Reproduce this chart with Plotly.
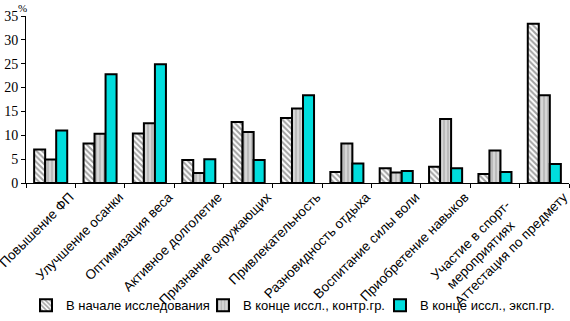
import plotly.graph_objects as go

categories = [
    "Повышение ФП", "Улучшение осанки", "Оптимизация веса", "Активное долголетие",
    "Признание окружающих", "Привлекательность", "Разновидность отдыха",
    "Воспитание силы воли", "Приобретение навыков",
    "Участие в спорт-<br>мероприятиях", "Аттестация по предмету",
]
series_names = ["В начале исследования", "В конце иссл., контр.гр.", "В конце иссл., эксп.гр."]
start_vals = [7.0, 8.3, 10.4, 4.8, 12.8, 13.6, 2.3, 3.1, 3.4, 1.9, 33.4]
control_vals = [4.9, 10.3, 12.5, 2.1, 10.7, 15.6, 8.3, 2.2, 13.4, 6.8, 18.4]
exp_vals = [11.0, 22.8, 24.9, 5.0, 4.8, 18.4, 4.1, 2.5, 3.1, 2.3, 4.0]
y_ticks = [0, 5, 10, 15, 20, 25, 30, 35]

xs = list(range(len(categories)))


def centre_lines(label):
    # emulate centred multi-line labels: pad line ends with no-break spaces
    if "<br>" not in label:
        return label
    first, second = label.split("<br>")
    return first + "\u00a0" * 3 + "<br>" + second + "\u00a0" * 6


tick_text = [centre_lines(c) for c in categories]

fig = go.Figure()
fig.add_trace(go.Bar(
    x=xs, y=start_vals, name=series_names[0],
    marker=dict(color="white", line=dict(color="black", width=2),
                pattern=dict(shape="\\", fgcolor="#444444", bgcolor="white", size=4, solidity=0.5)),
))
fig.add_trace(go.Bar(
    x=xs, y=control_vals, name=series_names[1],
    marker=dict(color="#C8C8C8", line=dict(color="black", width=2),
                pattern=dict(shape="|", fgcolor="#8A8A8A", bgcolor="#D6D6D6", size=4, solidity=0.35)),
))
fig.add_trace(go.Bar(
    x=xs, y=exp_vals, name=series_names[2],
    marker=dict(color="#00DDDD", line=dict(color="black", width=2)),
))

fig.update_layout(
    width=570, height=321,
    margin=dict(l=26, r=1, t=16, b=138),
    paper_bgcolor="white", plot_bgcolor="white",
    barmode="group", bargap=0.33, bargroupgap=0,
    font=dict(family="Liberation Sans, Arial", size=13, color="black"),
    showlegend=True,
    legend=dict(orientation="h", x=0.0, y=-0.733, xanchor="left", yanchor="middle",
                font=dict(size=13), entrywidth=132, itemsizing="constant",
                bgcolor="rgba(0,0,0,0)"),
    xaxis=dict(
        range=[-0.5, 10.5], showline=True, linecolor="black", linewidth=1,
        tickmode="array", tickvals=[x + 0.39 for x in xs], ticktext=tick_text,
        ticks="", tickangle=-45, showgrid=False, zeroline=False, automargin=False,
        ticklabeloverflow="allow",
        tickfont=dict(family="Liberation Sans, Arial", size=13.5),
        minor=dict(tickmode="array", tickvals=[x - 0.5 for x in xs] + [10.5],
                   ticks="outside", ticklen=4, tickcolor="black", showgrid=False),
    ),
    yaxis=dict(
        range=[0, 35], tickvals=y_ticks, showline=True, linecolor="black", linewidth=1,
        ticks="outside", ticklen=4, tickcolor="black", showgrid=False, zeroline=False,
        automargin=False,
        tickfont=dict(family="Liberation Serif, Times New Roman", size=14),
    ),
    annotations=[dict(text="%", xref="paper", yref="paper", x=-0.006, y=1.096,
                      xanchor="center", yanchor="top", showarrow=False,
                      font=dict(family="Liberation Serif, Times New Roman", size=11))],
)

fig.write_html("out.html")
